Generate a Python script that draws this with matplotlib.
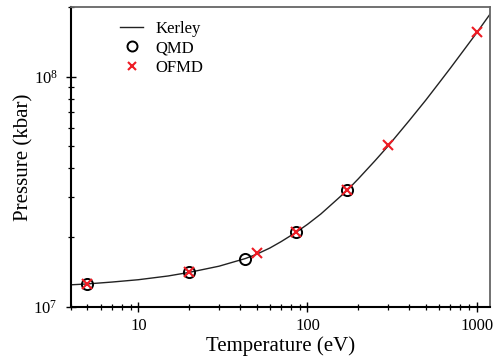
import numpy as np
import matplotlib
matplotlib.use("Agg")
import matplotlib.pyplot as plt
from matplotlib.ticker import FixedLocator, FixedFormatter, LogLocator, NullFormatter

plt.rcParams["font.family"] = ["Liberation Serif", "DejaVu Serif"]
plt.rcParams["mathtext.fontset"] = "custom"
plt.rcParams["mathtext.rm"] = "Liberation Serif"

# Kerley EOS curve
kerley_T = [4, 5, 7, 10, 15, 20, 30, 43, 50, 60, 70, 86, 100, 120, 150, 172, 200, 250,
            300, 400, 500, 600, 700, 850, 1000, 1200]
kerley_P = [1.245e7, 1.256e7, 1.28e7, 1.31e7, 1.36e7, 1.41e7, 1.50e7, 1.62e7, 1.69e7,
            1.80e7, 1.92e7, 2.11e7, 2.28e7, 2.53e7, 2.93e7, 3.21e7, 3.6e7, 4.3e7,
            5.0e7, 6.45e7, 7.9e7, 9.4e7, 1.09e8, 1.32e8, 1.55e8, 1.87e8]

# simulation points
qmd_T = [5, 20, 43, 86, 172]
qmd_P = [1.256e7, 1.41e7, 1.62e7, 2.11e7, 3.21e7]
ofmd_T = [5, 20, 50, 86, 172, 300, 1000]
ofmd_P = [1.256e7, 1.41e7, 1.71e7, 2.11e7, 3.21e7, 5.03e7, 1.57e8]

xticks = [10, 100, 1000]
xtick_labels = ["10", "100", "1000"]

fig = plt.figure(figsize=(5.0, 3.56), dpi=100)
ax = fig.add_axes([0.142, 0.1385, 0.838, 0.8405])

ax.plot(kerley_T, kerley_P, color="#222222", lw=1.0, label="Kerley")
ax.plot(qmd_T, qmd_P, ls="none", marker="o", ms=8, mfc="none", mec="black",
        mew=1.4, label="QMD")
ax.plot(ofmd_T, ofmd_P, ls="none", marker="x", ms=6.5, mec="#ee1c24",
        mew=1.5, label="OFMD")

ax.set_xscale("log")
ax.set_yscale("log")
ax.set_xlim(4, 1200)
ax.set_ylim(1e7, 2.0e8)

ax.xaxis.set_major_locator(FixedLocator(xticks))
ax.xaxis.set_major_formatter(FixedFormatter(xtick_labels))
ax.xaxis.set_minor_locator(LogLocator(base=10, subs=np.arange(2, 10)))
ax.xaxis.set_minor_formatter(NullFormatter())
ax.yaxis.set_minor_locator(LogLocator(base=10, subs=np.arange(2, 10)))
ax.yaxis.set_minor_formatter(NullFormatter())

ax.tick_params(which="major", direction="inout", length=7.2, width=1.0,
               labelsize=12, top=False, right=False)
ax.tick_params(axis="x", which="major", pad=4.5)
ax.tick_params(axis="y", which="major", pad=6)
ax.tick_params(which="minor", direction="inout", length=4.8, width=0.9,
               top=False, right=False)

for side in ["left", "bottom"]:
    ax.spines[side].set_linewidth(1.5)
    ax.spines[side].set_color("black")
for side in ["top", "right"]:
    ax.spines[side].set_linewidth(1.3)
    ax.spines[side].set_color("#666666")

ax.set_xlabel("Temperature (eV)", fontsize=15, labelpad=1.5)
ax.set_ylabel("Pressure (kbar)", fontsize=15, labelpad=0)

ax.legend(loc="upper left", bbox_to_anchor=(0.117, 0.955), frameon=False,
          fontsize=12, borderaxespad=0, borderpad=0, handlelength=1.4,
          handletextpad=0.7, labelspacing=0.2, numpoints=1, markerscale=0.9)

fig.savefig("out.png", dpi=100)
